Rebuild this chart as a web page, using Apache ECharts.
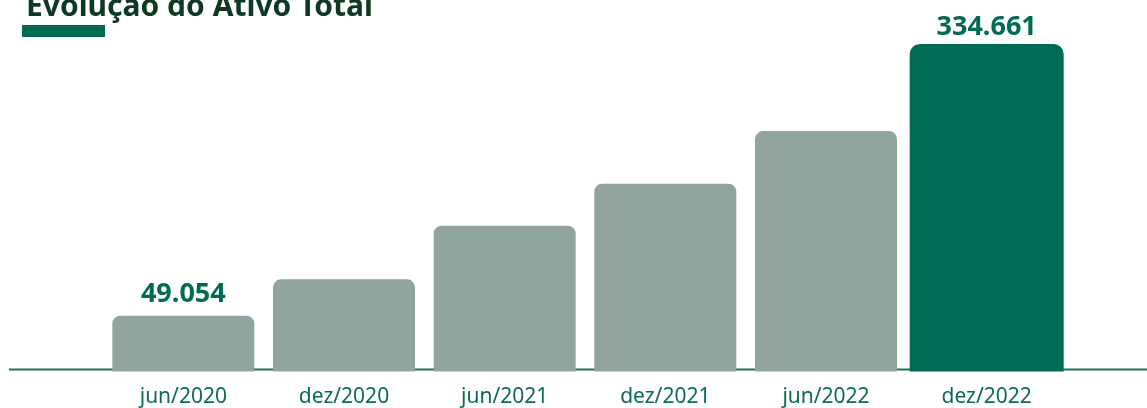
<!DOCTYPE html>
<html>
<head>
<meta charset="utf-8">
<script src="https://cdn.jsdelivr.net/npm/echarts@6/dist/echarts.min.js"></script>
<style>
  html, body { margin: 0; padding: 0; background: #fff; }
  #chart { width: 1147px; height: 408px; }
</style>
</head>
<body>
<div id="chart"></div>
<script>
// dados
var periodos = ['jun/2020', 'dez/2020', 'jun/2021', 'dez/2021', 'jun/2022', 'dez/2022'];
var ativoTotal = [49.054, 87.3, 143.7, 187.8, 243.2, 334.661];
var rotulos = ['49.054', '', '', '', '', '334.661'];   // só o primeiro e o último aparecem

var verde = '#006b55';
var cinza = '#92a59d';
var yMin = -9.6;   // o eixo do original não começa em zero

var chart = echarts.init(document.getElementById('chart'));

// barra desenhada desde a base do eixo até o valor
function desenhaBarra(params, api) {
    var i = api.value(0);
    var ultima = i === ativoTotal.length - 1;
    var w = ultima ? 154 : 142;
    var topo = api.coord([i, api.value(1)]);
    var base = api.coord([i, yMin]);
    return {
        type: 'rect',
        shape: { x: topo[0] - w / 2, y: topo[1], width: w, height: base[1] - topo[1], r: ultima ? [10, 10, 0, 0] : [8, 8, 0, 0] },
        style: { fill: ultima ? verde : cinza },
        textContent: {
            style: {
                text: rotulos[i],
                fill: verde,
                fontFamily: 'Noto Sans',
                fontWeight: 'bold',
                fontSize: 27
            }
        },
        textConfig: { position: 'top', distance: ultima ? 3 : 8 }
    };
}

var option = {
    backgroundColor: '#fff',
    animation: false,
    title: {
        text: 'Evolução do Ativo Total',
        left: 26,
        top: -8,
        padding: 0,
        textStyle: {
            color: '#0c3a1f',
            fontFamily: 'Noto Sans',
            fontWeight: 'bold',
            fontSize: 30
        }
    },
    graphic: [
        { type: 'rect', shape: { x: 22, y: 25, width: 83, height: 12 }, style: { fill: verde } },
        // linha de base, mais longa que a grade
        { type: 'line', z: -1, shape: { x1: 9, y1: 369.5, x2: 1147, y2: 369.5 }, style: { stroke: '#1b705f', lineWidth: 2 } }
    ],
    grid: { left: 103, width: 964, top: 20, bottom: 36.5 },
    xAxis: {
        type: 'category',
        data: periodos,
        axisLine: { show: false },
        axisTick: { show: false },
        axisLabel: {
            margin: 15,
            color: '#0b6b56',
            fontFamily: 'Noto Sans',
            fontSize: 21
        }
    },
    yAxis: { type: 'value', min: yMin, max: 360, show: false },
    series: [{
        type: 'custom',
        z: 10,
        renderItem: desenhaBarra,
        encode: { x: 0, y: 1 },
        data: ativoTotal.map(function (v, i) { return [i, v]; })
    }]
};
chart.setOption(option);
</script>
</body>
</html>
